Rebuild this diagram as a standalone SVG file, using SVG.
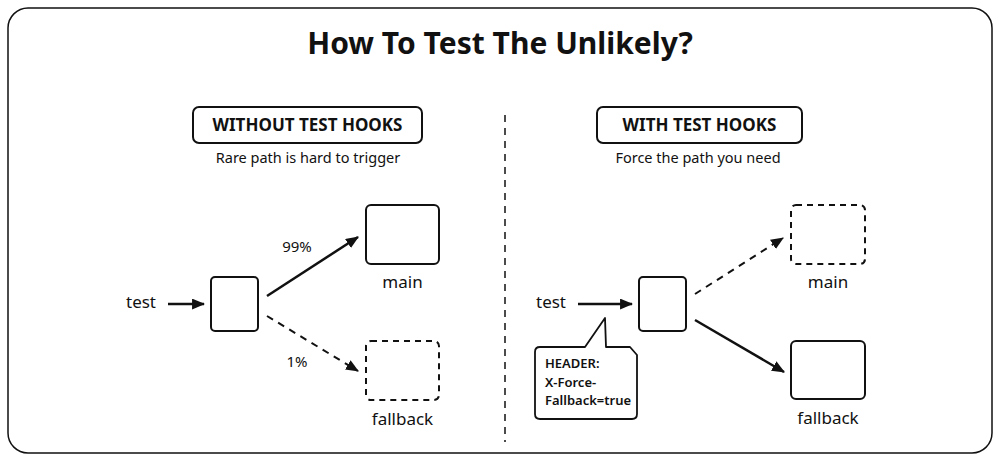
<svg xmlns="http://www.w3.org/2000/svg" width="1000" height="461" viewBox="0 0 1000 461">
<defs>
<style>
text{font-family:"Noto Sans","Liberation Sans",sans-serif;fill:#111}
.title{font-size:30px;font-weight:700}
.lbl{font-size:17px;font-weight:700}
.sub{font-size:14.5px}
.t{font-size:17px}
.small{font-size:15px}
.hdr{font-size:13px;font-weight:600}
.box{fill:#fff;stroke:#111;stroke-width:2}
.dbox{fill:#fff;stroke:#111;stroke-width:2;stroke-dasharray:6 5}
.arr{stroke:#111;stroke-width:2.5;fill:none}
.darr{stroke:#111;stroke-width:2;fill:none;stroke-dasharray:7 6}
</style>
<marker id="ah" viewBox="0 0 12 10" refX="11" refY="5" markerWidth="13" markerHeight="11" markerUnits="userSpaceOnUse" orient="auto">
<path d="M0,0 L12,5 L0,10 z" fill="#111"/>
</marker>
</defs>
<rect x="0" y="0" width="1000" height="461" fill="#fff"/>
<rect x="8" y="8" width="984" height="445" rx="20" fill="#fff" stroke="#111" stroke-width="1.5"/>
<text class="title" x="500" y="54" text-anchor="middle">How To Test The Unlikely?</text>
<line x1="505" y1="115" x2="505" y2="442" stroke="#111" stroke-width="1.5" stroke-dasharray="7 6"/>

<g id="left-header">
<rect x="193" y="107" width="229" height="36" rx="6" class="box"/>
<text class="lbl" x="307.5" y="131" text-anchor="middle">WITHOUT TEST HOOKS</text>
<text class="sub" x="308" y="163" text-anchor="middle">Rare path is hard to trigger</text>
</g>
<g id="right-header">
<rect x="597" y="107" width="205" height="36" rx="6" class="box"/>
<text class="lbl" x="699.5" y="131" text-anchor="middle">WITH TEST HOOKS</text>
<text class="sub" x="698" y="163" text-anchor="middle">Force the path you need</text>
</g>

<g id="left-test"><text class="t" x="126" y="308">test</text></g>
<g id="left-router"><rect x="211" y="277" width="47" height="54" rx="4" class="box"/></g>
<g id="left-main">
<rect x="366" y="205" width="73" height="59" rx="5" class="box"/>
<text class="t" x="402.5" y="288" text-anchor="middle">main</text>
</g>
<g id="left-fallback">
<rect x="366" y="341" width="73" height="59" rx="5" class="dbox"/>
<text class="t" x="402.5" y="425" text-anchor="middle">fallback</text>
</g>

<g id="right-test"><text class="t" x="536" y="308">test</text></g>
<g id="right-router"><rect x="639" y="277" width="47" height="54" rx="4" class="box"/></g>
<g id="right-main">
<rect x="791" y="205" width="74" height="59" rx="5" class="dbox"/>
<text class="t" x="828" y="288" text-anchor="middle">main</text>
</g>
<g id="right-fallback">
<rect x="791" y="341" width="74" height="58" rx="5" class="box"/>
<text class="t" x="828" y="424" text-anchor="middle">fallback</text>
</g>
<g id="callout">
<path d="M540,347 L585,347 L605,318 L606,347 L630,347 L637,355 L637,414 Q637,419 632,419 L540,419 Q535,419 535,414 L535,352 Q535,347 540,347 Z" fill="#fff" stroke="#111" stroke-width="1.8" stroke-linejoin="round"/>
<text class="hdr" x="545" y="368">HEADER:</text>
<text class="hdr" x="545" y="387">X-Force-</text>
<text class="hdr" x="545" y="405">Fallback=true</text>
</g>

<g id="connectors">
<line x1="168" y1="304" x2="204" y2="304" class="arr" marker-end="url(#ah)"/>
<line x1="267" y1="296" x2="358" y2="237" class="arr" marker-end="url(#ah)"/>
<line x1="267" y1="316" x2="358" y2="371" class="darr" marker-end="url(#ah)"/>
<text class="small" x="297" y="252" text-anchor="middle">99%</text>
<text class="small" x="297" y="367" text-anchor="middle">1%</text>
<line x1="578" y1="304" x2="632" y2="304" class="arr" marker-end="url(#ah)"/>
<line x1="695" y1="294" x2="783" y2="238" class="darr" marker-end="url(#ah)"/>
<line x1="695" y1="320" x2="784" y2="372" class="arr" marker-end="url(#ah)"/>
</g>
</svg>
